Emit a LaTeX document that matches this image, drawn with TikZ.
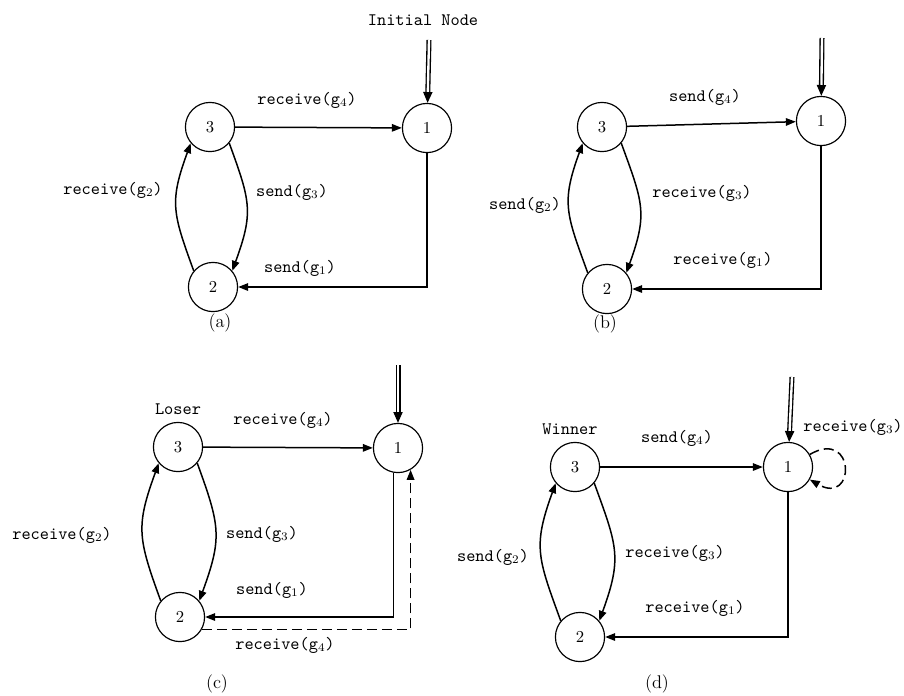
\documentclass[tikz,border=0pt]{standalone}
\usetikzlibrary{arrows.meta}

\begin{document}
\begin{tikzpicture}[x=0.6pt, y=-0.6pt,
    >={Triangle[length=6pt,width=4.5pt]},
    state/.style={draw, circle, line width=0.7pt, minimum size=29.5pt, inner sep=0pt, font=\normalsize},
    lbl/.style={font=\fontsize{10.5}{12}\ttfamily},
    caption/.style={font=\fontsize{11}{13}\selectfont},
    trans/.style={->, line width=0.9pt},
    down/.style={out=-70, in=70, looseness=1.25},
    up/.style={out=110, in=-110, looseness=1.25},
    dash line/.style={dash pattern=on 6pt off 3pt},
    init/.style={double, double distance=1.4pt, line width=0.8pt, -{Triangle[length=6.5pt,width=5.5pt]}}]

    \useasboundingbox (0,0) rectangle (904,695);

    % ---------- (a) ----------
    \node[state] at (210, 127) (a3) {3};
    \node[state] at (427, 128) (a1) {1};
    \node[state] at (213, 287) (a2) {2};
    \node[lbl] at (423, 20) (aInit) {Initial Node};
    \coordinate (a0) at (429, 40);

    \draw[init] (a0) -- (a1);
    \draw[trans] (a3) -- (a1);
    \draw[trans] (a1.south) |- (a2.east);
    \draw[trans] (a3.-40) to[down] (a2.40);
    \draw[trans] (a2.140) to[up] (a3.-140);

    \node[lbl] at (307, 100) {receive(g$_4$)};
    \node[lbl] at (292, 192) {send(g$_3$)};
    \node[lbl] at (113, 190) {receive(g$_2$)};
    \node[lbl] at (300, 268) {send(g$_1$)};
    \node[caption] at (220, 323) {(a)};

    % ---------- (b) ----------
    \node[state] at (602, 127) (b3) {3};
    \node[state] at (821, 121) (b1) {1};
    \node[state] at (607, 289) (b2) {2};
    \coordinate (b0) at (822, 38);

    \draw[init] (b0) -- (b1);
    \draw[trans] (b3) -- (b1);
    \draw[trans] (b1.south) |- (b2.east);
    \draw[trans] (b3.-40) to[down] (b2.40);
    \draw[trans] (b2.140) to[up] (b3.-140);

    \node[lbl] at (705, 97) {send(g$_4$)};
    \node[lbl] at (702, 193) {receive(g$_3$)};
    \node[lbl] at (723, 260) {receive(g$_1$)};
    \node[lbl] at (525, 205) {send(g$_2$)};
    \node[caption] at (605, 324) {(b)};

    % ---------- (c) ----------
    \node[state] at (178, 447) (c3) {3};
    \node[state] at (398, 448) (c1) {1};
    \node[state] at (180, 617) (c2) {2};
    \node[lbl] at (178, 409) (cLoser) {Loser};
    \coordinate (c0) at (398, 365);

    \draw[init] (c0) -- (c1);
    \draw[trans] (c3) -- (c1);
    \draw[trans] (c1.-100) |- (c2.east);
    \draw[trans] (c3.-40) to[down] (c2.40);
    \draw[trans] (c2.140) to[up] (c3.-140);
    \draw[trans, dash line] (c2.-30) -| (c1.-60);

    \node[lbl] at (283, 420) {receive(g$_4$)};
    \node[lbl] at (62, 535) {receive(g$_2$)};
    \node[lbl] at (262, 534) {send(g$_3$)};
    \node[lbl] at (272, 590) {send(g$_1$)};
    \node[lbl] at (285, 645) {receive(g$_4$)};
    \node[caption] at (217, 684) {(c)};

    % ---------- (d) ----------
    \node[state] at (575, 467) (d3) {3};
    \node[state] at (788, 467) (d1) {1};
    \node[state] at (580, 637) (d2) {2};
    \node[lbl] at (570, 429) (dWinner) {Winner};
    \coordinate (d0) at (792, 377);

    \draw[init] (d0) -- (d1);
    \draw[trans] (d3) -- (d1);
    \draw[trans] (d1.south) |- (d2.east);
    \draw[trans] (d3.-40) to[down] (d2.40);
    \draw[trans] (d2.140) to[up] (d3.-140);
    \draw[trans, dash line] (d1.30) to[out=30, in=-30, distance=32pt] (d1.-30);

    \node[lbl] at (677, 438) {send(g$_4$)};
    \node[lbl] at (853, 427) {receive(g$_3$)};
    \node[lbl] at (493, 557) {send(g$_2$)};
    \node[lbl] at (675, 553) {receive(g$_3$)};
    \node[lbl] at (695, 608) {receive(g$_1$)};
    \node[caption] at (657, 684) {(d)};
\end{tikzpicture}
\end{document}
